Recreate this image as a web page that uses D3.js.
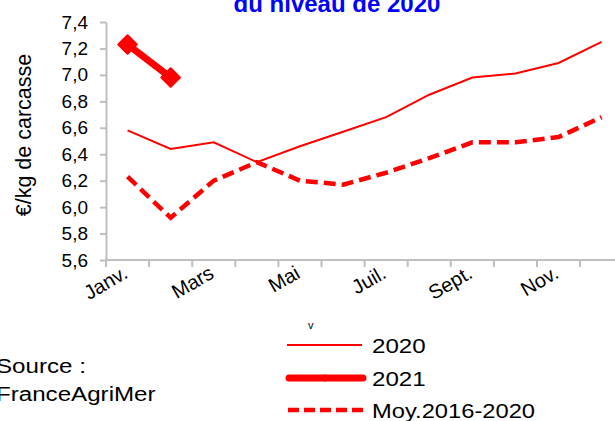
<!DOCTYPE html>
<html>
<head>
<meta charset="utf-8">
<script src="https://cdn.jsdelivr.net/npm/d3@7"></script>
<style>
  body { margin: 0; background: #fff; }
  svg { display: block; font-family: "Liberation Sans", Arial, sans-serif; }
</style>
</head>
<body>
<div id="wrapper"></div>
<script>
// donnees
const mois = ["Janv.", "Févr.", "Mars", "Avr.", "Mai", "Juin", "Juil.", "Août", "Sept.", "Oct.", "Nov.", "Déc."];
const prix2020 = [6.58, 6.44, 6.49, 6.34, 6.46, 6.57, 6.68, 6.85, 6.98, 7.01, 7.09, 7.25];
const prix2021 = [7.23, 6.98];
const moy2016_2020 = [6.23, 5.92, 6.20, 6.34, 6.20, 6.17, 6.26, 6.37, 6.49, 6.49, 6.53, 6.68];
const yTicks = [5.6, 5.8, 6.0, 6.2, 6.4, 6.6, 6.8, 7.0, 7.2, 7.4];

const width = 615;
const height = 421;
const rouge = "#ff0000";
const gris = "#bfbfbf";

const svg = d3.select("#wrapper")
  .append("svg")
  .attr("width", width)
  .attr("height", height);

// echelles
const x = d3.scaleBand()
  .domain(mois)
  .range([106, 106 + 12 * 43.1]);

const y = d3.scaleLinear()
  .domain([5.6, 7.4])
  .range([260, 22]);

const cx = m => x(m) + x.bandwidth() / 2;

// texte un peu etire en largeur, comme dans l'original
const etire = (sel, px, py, k) => sel.attr("transform", `translate(${px},${py}) scale(${k},1)`);

// titre (coupe en haut)
svg.append("text")
  .attr("x", 337)
  .attr("y", 12)
  .attr("text-anchor", "middle")
  .attr("font-size", 24)
  .attr("font-weight", "bold")
  .attr("fill", "#0000ff")
  .text("du niveau de 2020");

// axe y
const yAxis = svg.append("g")
  .attr("transform", "translate(106,0)")
  .call(d3.axisLeft(y).tickValues(yTicks).tickSize(6).tickSizeOuter(0)
    .tickFormat(d => d3.format(".1f")(d).replace(".", ",")));
yAxis.select(".domain").attr("stroke", gris).attr("stroke-width", 2);
yAxis.selectAll(".tick line").attr("stroke", gris).attr("stroke-width", 2);
yAxis.selectAll(".tick text")
  .attr("x", -18)
  .attr("font-size", 19)
  .attr("fill", "#000")
  .attr("font-family", "Liberation Sans, Arial, sans-serif");

// axe x (traits entre les mois)
const xAxis = svg.append("g");
xAxis.append("line")
  .attr("x1", x.range()[0]).attr("x2", x.range()[1])
  .attr("y1", y(5.6)).attr("y2", y(5.6))
  .attr("stroke", gris).attr("stroke-width", 2);
xAxis.selectAll("line.tk")
  .data(d3.range(13))
  .join("line")
  .attr("class", "tk")
  .attr("x1", i => x.range()[0] + i * x.step())
  .attr("x2", i => x.range()[0] + i * x.step())
  .attr("y1", y(5.6)).attr("y2", y(5.6) + 7)
  .attr("stroke", gris).attr("stroke-width", 2);
xAxis.selectAll("text")
  .data(mois.filter((m, i) => i % 2 === 0))
  .join("text")
  .attr("transform", m => `translate(${cx(m) - 6},${y(5.6) + 4}) rotate(-30)`)
  .attr("text-anchor", "end")
  .attr("dy", "0.75em")
  .attr("font-size", 20)
  .text(m => m);

// titre axe y
svg.append("text")
  .attr("transform", `translate(31,135) rotate(-90)`)
  .attr("text-anchor", "middle")
  .attr("font-size", 21.5)
  .text("€/kg de carcasse");

// lignes
const line = vals => d3.line()
  .x((d, i) => cx(mois[i]))
  .y(d => y(d))(vals);

svg.append("path")
  .attr("d", line(moy2016_2020))
  .attr("fill", "none")
  .attr("stroke", rouge)
  .attr("stroke-width", 4.5)
  .attr("stroke-dasharray", "12,6");

svg.append("path")
  .attr("d", line(prix2020))
  .attr("fill", "none")
  .attr("stroke", rouge)
  .attr("stroke-width", 2);

svg.append("path")
  .attr("d", line(prix2021))
  .attr("fill", "none")
  .attr("stroke", rouge)
  .attr("stroke-width", 7);

const losange = d3.symbol().type(d3.symbolDiamond2).size(220);
svg.selectAll("path.pt")
  .data(prix2021)
  .join("path")
  .attr("class", "pt")
  .attr("d", losange)
  .attr("transform", (d, i) => `translate(${cx(mois[i])},${y(d)})`)
  .attr("fill", rouge)
  .attr("stroke", rouge)
  .attr("stroke-width", 2)
  .attr("stroke-linejoin", "round");

// legende
const leg = svg.append("g");
leg.append("text").attr("x", 308).attr("y", 329).attr("font-size", 11).text("v");
leg.append("line").attr("x1", 287).attr("x2", 362).attr("y1", 345).attr("y2", 345)
  .attr("stroke", rouge).attr("stroke-width", 2);
leg.append("text").attr("font-size", 21).text("2020").call(etire, 372, 353, 1.15);
leg.append("line").attr("x1", 289).attr("x2", 363).attr("y1", 378).attr("y2", 378)
  .attr("stroke", rouge).attr("stroke-width", 7).attr("stroke-linecap", "round");
leg.append("path").attr("d", d3.symbol().type(d3.symbolDiamond2).size(40))
  .attr("transform", "translate(325,378)").attr("fill", rouge);
leg.append("text").attr("font-size", 21).text("2021").call(etire, 372, 386, 1.15);
leg.append("line").attr("x1", 288).attr("x2", 364).attr("y1", 410).attr("y2", 410)
  .attr("stroke", rouge).attr("stroke-width", 4.5).attr("stroke-dasharray", "11,5");
leg.append("text").attr("font-size", 21).text("Moy.2016-2020").call(etire, 372, 418, 1.13);

// source
svg.append("text").attr("font-size", 21).text("Source :").call(etire, -4, 373, 1.15);
svg.append("text").attr("font-size", 21).text("FranceAgriMer").call(etire, -4, 401, 1.15);
</script>
</body>
</html>
